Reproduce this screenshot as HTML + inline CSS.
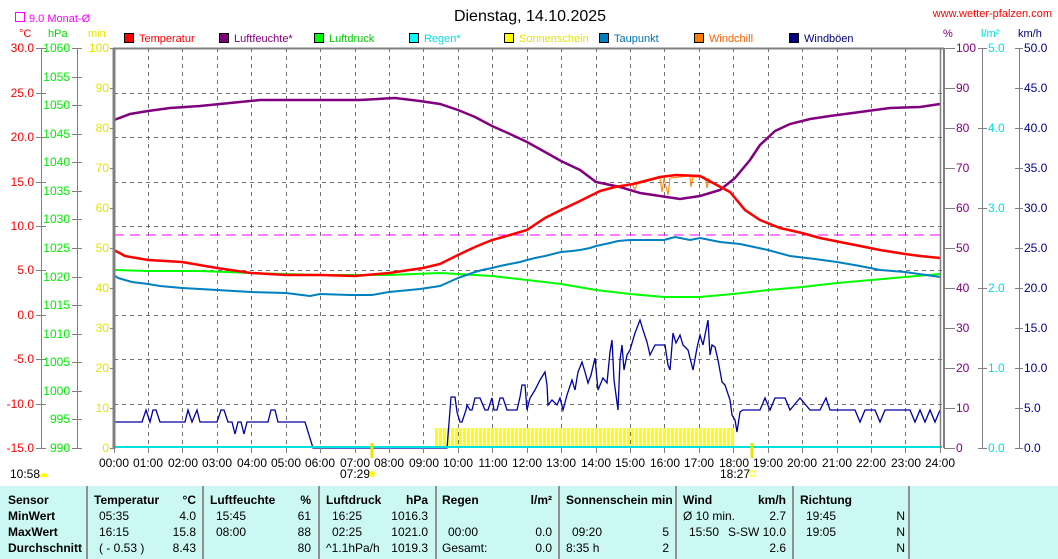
<!DOCTYPE html>
<html><head><meta charset="utf-8"><style>
html,body{margin:0;padding:0;background:#fff;width:1058px;height:559px;overflow:hidden}
svg{display:block;font-family:"Liberation Sans",sans-serif}
</style></head><body>
<svg width="1058" height="559" viewBox="0 0 1058 559" xmlns="http://www.w3.org/2000/svg">
<defs>
<pattern id="sun" x="435" y="0" width="4" height="20" patternUnits="userSpaceOnUse"><rect x="0" y="0" width="3" height="20" fill="#ffff00" shape-rendering="crispEdges"/></pattern>
</defs>
<text x="530" y="21" font-size="16" text-anchor="middle" fill="#000">Dienstag, 14.10.2025</text>
<text x="1052" y="17" font-size="11" text-anchor="end" fill="#ff0000">www.wetter-pfalzen.com</text>
<rect x="15.5" y="12.5" width="9" height="9" fill="none" stroke="#ff00ff"/>
<text x="29" y="22" font-size="11" fill="#ff00ff">9.0 Monat-Ø</text>
<text x="19" y="37" font-size="11" fill="#ff0000">°C</text>
<text x="48" y="37" font-size="11" fill="#00dd00">hPa</text>
<text x="88" y="37" font-size="11" fill="#e6e600">min</text>
<text x="943" y="37" font-size="11" fill="#800080">%</text>
<text x="981" y="37" font-size="11" fill="#00e0e0">l/m²</text>
<text x="1018" y="37" font-size="11" fill="#000080">km/h</text>
<g font-size="11">
<rect x="124.5" y="33.5" width="9" height="9" fill="#ff0000" stroke="#000"/><text x="139" y="42" fill="#ff0000">Temperatur</text>
<rect x="219.5" y="33.5" width="9" height="9" fill="#800080" stroke="#000"/><text x="234" y="42" fill="#800080">Luftfeuchte*</text>
<rect x="314.5" y="33.5" width="9" height="9" fill="#00ff00" stroke="#000"/><text x="329" y="42" fill="#00cc00">Luftdruck</text>
<rect x="409.5" y="33.5" width="9" height="9" fill="#00ffff" stroke="#000"/><text x="424" y="42" fill="#00e0e0">Regen*</text>
<rect x="504.5" y="33.5" width="9" height="9" fill="#ffff00" stroke="#000"/><text x="519" y="42" fill="#e6e600">Sonnenschein</text>
<rect x="599.5" y="33.5" width="9" height="9" fill="#0080c0" stroke="#000"/><text x="614" y="42" fill="#0070b0">Taupunkt</text>
<rect x="694.5" y="33.5" width="9" height="9" fill="#ff8000" stroke="#000"/><text x="709" y="42" fill="#ff6000">Windchill</text>
<rect x="789.5" y="33.5" width="9" height="9" fill="#000080" stroke="#000"/><text x="804" y="42" fill="#000080">Windböen</text>
</g>
<g stroke="#707070" stroke-dasharray="4,4" stroke-width="1" shape-rendering="crispEdges">
<line x1="114" y1="93.5" x2="942" y2="93.5"/><line x1="114" y1="137.5" x2="942" y2="137.5"/><line x1="114" y1="182.5" x2="942" y2="182.5"/><line x1="114" y1="226.5" x2="942" y2="226.5"/><line x1="114" y1="270.5" x2="942" y2="270.5"/><line x1="114" y1="315.5" x2="942" y2="315.5"/><line x1="114" y1="359.5" x2="942" y2="359.5"/><line x1="114" y1="404.5" x2="942" y2="404.5"/>
<line x1="148.5" y1="48" x2="148.5" y2="448"/><line x1="182.5" y1="48" x2="182.5" y2="448"/><line x1="217.5" y1="48" x2="217.5" y2="448"/><line x1="251.5" y1="48" x2="251.5" y2="448"/><line x1="286.5" y1="48" x2="286.5" y2="448"/><line x1="320.5" y1="48" x2="320.5" y2="448"/><line x1="355.5" y1="48" x2="355.5" y2="448"/><line x1="389.5" y1="48" x2="389.5" y2="448"/><line x1="423.5" y1="48" x2="423.5" y2="448"/><line x1="458.5" y1="48" x2="458.5" y2="448"/><line x1="492.5" y1="48" x2="492.5" y2="448"/><line x1="527.5" y1="48" x2="527.5" y2="448"/><line x1="561.5" y1="48" x2="561.5" y2="448"/><line x1="596.5" y1="48" x2="596.5" y2="448"/><line x1="630.5" y1="48" x2="630.5" y2="448"/><line x1="664.5" y1="48" x2="664.5" y2="448"/><line x1="699.5" y1="48" x2="699.5" y2="448"/><line x1="733.5" y1="48" x2="733.5" y2="448"/><line x1="768.5" y1="48" x2="768.5" y2="448"/><line x1="802.5" y1="48" x2="802.5" y2="448"/><line x1="837.5" y1="48" x2="837.5" y2="448"/><line x1="871.5" y1="48" x2="871.5" y2="448"/><line x1="905.5" y1="48" x2="905.5" y2="448"/>
</g>
<line x1="114" y1="235" x2="942" y2="235" stroke="#ff00ff" stroke-dasharray="10,6" stroke-width="1"/>
<rect x="435" y="428" width="300" height="19" fill="url(#sun)"/>
<polyline fill="none" stroke="#00ff00" stroke-width="2" points="114,270 148,271 200,271 251,273 320,275 389,275 440,273 492,276 527,280 561,284 596,290 630,294 664,297 699,297 733,294 768,290 802,287 837,283 871,280 905,277 940,274"/>
<polyline fill="none" stroke="#0080c0" stroke-width="2" points="114,275 118,278 125,280 132,282 148,284 160,286 182,288 200,289 217,290 251,292 286,293 310,296 320,294 350,295 372,295 389,292 420,289 440,286 458,278 475,272 482,270 492,268 500,266 510,264 520,262 527,260 535,258 545,256 561,252 572,251 580,250 590,248 596,246 610,243 618,241 630,240 650,240 664,240 675,237 690,240 700,238 720,242 740,244 768,250 790,256 815,259 837,262 860,266 880,270 905,272 940,277"/>
<polyline fill="none" stroke="#800080" stroke-width="2.5" points="114,120 130,114 148,111 170,108 200,106 230,103 260,100 300,100 360,100 395,98 420,101 440,104 458,110 475,117 492,126 510,134 527,142 545,152 561,161 580,170 596,182 620,187 640,193 660,196 680,199 700,196 720,190 735,178 750,160 760,145 775,131 790,124 810,119 830,116 860,112 890,108 920,107 940,104"/>
<polyline fill="none" stroke="#ff8000" stroke-width="1" points="632,184 635,190 637,184 660,178 662,192 664,178 668,195 670,178 690,176 691,187 693,177 705,177 707,188 709,178"/>
<polyline fill="none" stroke="#ff0000" stroke-width="2.5" points="114,250 125,256 148,260 182,262 217,268 251,273 286,275 320,275 355,276 389,273 423,268 440,264 458,255 475,247 492,240 510,235 527,230 545,218 561,210 580,201 600,191 615,187 633,184 660,177 676,175 700,176 713,183 730,192 745,210 760,220 780,228 802,233 820,238 840,242 860,246 880,250 905,254 920,256 940,258"/>
<polyline fill="none" stroke="#0000a0" stroke-width="1.3" points="114,422 142,422 146,410 150,422 153,410 156,410 160,422 185,422 188,410 192,422 197,410 200,422 217,422 221,410 224,410 228,422 232,422 235,434 238,422 241,422 244,434 247,422 268,422 271,410 275,410 278,422 305,422 313,448 447,448 449,423 451,397 455,397 457,412 460,422 462,422 466,410 467,405 470,410 472,410 475,398 480,398 485,410 488,410 492,398 494,410 497,410 500,398 503,398 507,410 517,410 520,397 522,385 525,385 527,410 530,398 535,390 540,380 545,372 547,385 548,405 552,400 557,405 560,398 563,410 567,395 572,380 575,390 578,372 582,362 585,372 588,383 591,375 595,358 598,390 603,378 607,383 610,352 612,340 614,380 618,410 620,360 622,345 624,370 627,355 630,350 635,333 640,320 643,330 647,342 650,355 655,345 665,345 668,365 670,370 673,333 676,343 680,335 683,345 688,350 693,370 697,348 700,335 703,345 708,320 710,355 712,345 715,347 718,360 722,382 725,385 730,400 732,415 735,420 737,432 740,412 743,410 760,410 765,398 770,410 775,398 785,398 790,410 800,398 810,410 820,410 826,398 830,410 855,410 860,422 865,410 875,410 880,422 885,410 910,410 915,422 920,410 925,422 930,410 935,422 940,410"/>
<line x1="114" y1="447" x2="942" y2="447" stroke="#00e0e0" stroke-width="2"/>
<g stroke="#808080" fill="none">
<line x1="114" y1="48" x2="114" y2="449" stroke-width="3"/>
<line x1="113" y1="48.5" x2="944" y2="48.5" stroke-width="2"/>
<line x1="940.5" y1="48" x2="940.5" y2="448" stroke-width="1.5"/>
<line x1="944" y1="48" x2="944" y2="448" stroke-width="2"/>
<line x1="41.5" y1="48" x2="41.5" y2="448"/>
<line x1="77.5" y1="48" x2="77.5" y2="448"/>
<line x1="982.5" y1="48" x2="982.5" y2="448"/>
<line x1="1019.5" y1="48" x2="1019.5" y2="448"/>
</g>
<g stroke="#808080" stroke-width="1" shape-rendering="crispEdges">
<path d="M36 48.5h10M36 93.5h10M36 137.5h10M36 182.5h10M36 226.5h10M36 270.5h10M36 315.5h10M36 359.5h10M36 404.5h10M36 448.5h10"/>
<path d="M72 48.5h10M72 77.5h10M72 105.5h10M72 134.5h10M72 162.5h10M72 191.5h10M72 219.5h10M72 248.5h10M72 277.5h10M72 305.5h10M72 334.5h10M72 362.5h10M72 391.5h10M72 419.5h10M72 448.5h10"/>
<path d="M110 48.5h4M110 88.5h4M110 128.5h4M110 168.5h4M110 208.5h4M110 248.5h4M110 288.5h4M110 328.5h4M110 368.5h4M110 408.5h4M110 448.5h4"/>
<path d="M944 48.5h11M944 88.5h11M944 128.5h11M944 168.5h11M944 208.5h11M944 248.5h11M944 288.5h11M944 328.5h11M944 368.5h11M944 408.5h11M944 448.5h11"/>
<path d="M978 48.5h9M978 128.5h9M978 208.5h9M978 288.5h9M978 368.5h9M978 448.5h9"/>
<path d="M1015 48.5h8M1015 88.5h8M1015 128.5h8M1015 168.5h8M1015 208.5h8M1015 248.5h8M1015 288.5h8M1015 328.5h8M1015 368.5h8M1015 408.5h8M1015 448.5h8"/>
<path d="M114.5 448v5M148.5 448v5M182.5 448v5M217.5 448v5M251.5 448v5M286.5 448v5M320.5 448v5M355.5 448v5M389.5 448v5M423.5 448v5M458.5 448v5M492.5 448v5M527.5 448v5M561.5 448v5M596.5 448v5M630.5 448v5M664.5 448v5M699.5 448v5M733.5 448v5M768.5 448v5M802.5 448v5M837.5 448v5M871.5 448v5M905.5 448v5M940.5 448v5"/>
</g>
<g font-size="12">
<g fill="#ff0000" text-anchor="end">
<text x="34" y="52">30.0</text><text x="34" y="97">25.0</text><text x="34" y="141">20.0</text><text x="34" y="186">15.0</text><text x="34" y="230">10.0</text><text x="34" y="274">5.0</text><text x="34" y="319">0.0</text><text x="34" y="363">-5.0</text><text x="34" y="408">-10.0</text><text x="34" y="452">-15.0</text>
</g>
<g fill="#00ee00" text-anchor="end">
<text x="70" y="52">1060</text><text x="70" y="81">1055</text><text x="70" y="109">1050</text><text x="70" y="138">1045</text><text x="70" y="166">1040</text><text x="70" y="195">1035</text><text x="70" y="223">1030</text><text x="70" y="252">1025</text><text x="70" y="281">1020</text><text x="70" y="309">1015</text><text x="70" y="338">1010</text><text x="70" y="366">1005</text><text x="70" y="395">1000</text><text x="70" y="423">995</text><text x="70" y="452">990</text>
</g>
<g fill="#e6e600" text-anchor="end">
<text x="109" y="52">100</text><text x="109" y="92">90</text><text x="109" y="132">80</text><text x="109" y="172">70</text><text x="109" y="212">60</text><text x="109" y="252">50</text><text x="109" y="292">40</text><text x="109" y="332">30</text><text x="109" y="372">20</text><text x="109" y="412">10</text><text x="109" y="452">0</text>
</g>
<g fill="#800080">
<text x="956" y="52">100</text><text x="956" y="92">90</text><text x="956" y="132">80</text><text x="956" y="172">70</text><text x="956" y="212">60</text><text x="956" y="252">50</text><text x="956" y="292">40</text><text x="956" y="332">30</text><text x="956" y="372">20</text><text x="956" y="412">10</text><text x="956" y="452">0</text>
</g>
<g fill="#00e0e0">
<text x="988" y="52">5.0</text><text x="988" y="132">4.0</text><text x="988" y="212">3.0</text><text x="988" y="292">2.0</text><text x="988" y="372">1.0</text><text x="988" y="452">0.0</text>
</g>
<g fill="#000090">
<text x="1024" y="52">50.0</text><text x="1024" y="92">45.0</text><text x="1024" y="132">40.0</text><text x="1024" y="172">35.0</text><text x="1024" y="212">30.0</text><text x="1024" y="252">25.0</text><text x="1024" y="292">20.0</text><text x="1024" y="332">15.0</text><text x="1024" y="372">10.0</text><text x="1024" y="412">5.0</text><text x="1024" y="452">0.0</text>
</g>
<g fill="#000" text-anchor="middle">
<text x="114" y="467">00:00</text><text x="148" y="467">01:00</text><text x="183" y="467">02:00</text><text x="217" y="467">03:00</text><text x="252" y="467">04:00</text><text x="286" y="467">05:00</text><text x="320" y="467">06:00</text><text x="355" y="467">07:00</text><text x="389" y="467">08:00</text><text x="424" y="467">09:00</text><text x="458" y="467">10:00</text><text x="493" y="467">11:00</text><text x="527" y="467">12:00</text><text x="561" y="467">13:00</text><text x="596" y="467">14:00</text><text x="630" y="467">15:00</text><text x="665" y="467">16:00</text><text x="699" y="467">17:00</text><text x="734" y="467">18:00</text><text x="768" y="467">19:00</text><text x="802" y="467">20:00</text><text x="837" y="467">21:00</text><text x="871" y="467">22:00</text><text x="906" y="467">23:00</text><text x="940" y="467">24:00</text>
</g>
<text x="340" y="478" fill="#000">07:29</text>
<text x="720" y="478" fill="#000">18:27</text>
<text x="10" y="478" fill="#000">10:58</text>
</g>
<line x1="372" y1="443" x2="372" y2="458" stroke="#e6e600" stroke-width="3"/>
<line x1="752" y1="443" x2="752" y2="458" stroke="#e6e600" stroke-width="3"/>
<circle cx="372" cy="474" r="3" fill="#ffff00"/>
<rect x="750" y="471" width="5" height="5" fill="none" stroke="#ffff00"/>
<path d="M40,477 a4,4 0 0 1 8,0 z" fill="#ffff00"/>
<rect x="0" y="486" width="1058" height="73" fill="#ccf8f4"/>
<g stroke="#909090" stroke-width="2">
<line x1="87" y1="486" x2="87" y2="559"/><line x1="203" y1="486" x2="203" y2="559"/><line x1="319" y1="486" x2="319" y2="559"/><line x1="436" y1="486" x2="436" y2="559"/><line x1="559" y1="486" x2="559" y2="559"/><line x1="676" y1="486" x2="676" y2="559"/><line x1="793" y1="486" x2="793" y2="559"/><line x1="909" y1="486" x2="909" y2="559"/>
</g>
<g font-size="12" fill="#000" font-weight="bold">
<text x="8" y="504">Sensor</text><text x="8" y="520">MinWert</text><text x="8" y="536">MaxWert</text><text x="8" y="552">Durchschnitt</text>
<text x="94" y="504">Temperatur</text><text x="196" y="504" text-anchor="end">°C</text>
<text x="210" y="504">Luftfeuchte</text><text x="311" y="504" text-anchor="end">%</text>
<text x="326" y="504">Luftdruck</text><text x="428" y="504" text-anchor="end">hPa</text>
<text x="442" y="504">Regen</text><text x="552" y="504" text-anchor="end">l/m²</text>
<text x="566" y="504">Sonnenschein min</text>
<text x="683" y="504">Wind</text><text x="786" y="504" text-anchor="end">km/h</text>
<text x="800" y="504">Richtung</text>
</g>
<g font-size="12" fill="#000">
<text x="99" y="520">05:35</text><text x="196" y="520" text-anchor="end">4.0</text>
<text x="99" y="536">16:15</text><text x="196" y="536" text-anchor="end">15.8</text>
<text x="99" y="552">( - 0.53 )</text><text x="196" y="552" text-anchor="end">8.43</text>
<text x="216" y="520">15:45</text><text x="311" y="520" text-anchor="end">61</text>
<text x="216" y="536">08:00</text><text x="311" y="536" text-anchor="end">88</text>
<text x="311" y="552" text-anchor="end">80</text>
<text x="332" y="520">16:25</text><text x="428" y="520" text-anchor="end">1016.3</text>
<text x="332" y="536">02:25</text><text x="428" y="536" text-anchor="end">1021.0</text>
<text x="326" y="552">^1.1hPa/h</text><text x="428" y="552" text-anchor="end">1019.3</text>
<text x="448" y="536">00:00</text><text x="552" y="536" text-anchor="end">0.0</text>
<text x="442" y="552">Gesamt:</text><text x="552" y="552" text-anchor="end">0.0</text>
<text x="572" y="536">09:20</text><text x="669" y="536" text-anchor="end">5</text>
<text x="566" y="552">8:35 h</text><text x="669" y="552" text-anchor="end">2</text>
<text x="683" y="520">Ø 10 min.</text><text x="786" y="520" text-anchor="end">2.7</text>
<text x="689" y="536">15:50</text><text x="786" y="536" text-anchor="end">S-SW 10.0</text>
<text x="786" y="552" text-anchor="end">2.6</text>
<text x="806" y="520">19:45</text><text x="905" y="520" text-anchor="end">N</text>
<text x="806" y="536">19:05</text><text x="905" y="536" text-anchor="end">N</text>
<text x="905" y="552" text-anchor="end">N</text>
</g>
</svg>
</body></html>
